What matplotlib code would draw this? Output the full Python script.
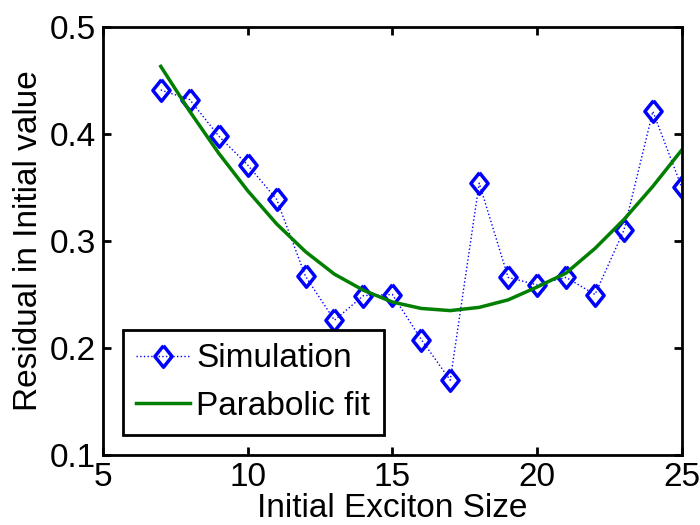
import matplotlib
matplotlib.use('Agg')
import matplotlib.pyplot as plt

# exciton size vs residual
sizes = [7, 8, 9, 10, 11, 12, 13, 14, 15, 16, 17, 18, 19, 20, 21, 22, 23, 24, 25]
sim = [0.441, 0.432, 0.398, 0.371, 0.339, 0.267, 0.226, 0.249, 0.250, 0.208, 0.170,
       0.354, 0.266, 0.259, 0.266, 0.250, 0.310, 0.421, 0.350]
fit = [0.463, 0.421, 0.382, 0.347, 0.316, 0.290, 0.269, 0.254, 0.243, 0.237, 0.235,
       0.238, 0.245, 0.257, 0.270, 0.293, 0.320, 0.351, 0.385]

plt.rcParams['font.family'] = ['Liberation Sans', 'DejaVu Sans']

# matlab style diamond, a bit taller than wide
diamond = [(0, 1), (0.8, 0), (0, -1), (-0.8, 0), (0, 1)]

fig = plt.figure(figsize=(7, 5.25), dpi=100)
ax = fig.add_axes([0.147, 0.133, 0.827, 0.816])

ax.plot(sizes, sim, color='blue', linestyle=':', linewidth=1, marker=diamond,
        markersize=15.5, markerfacecolor='none', markeredgecolor='blue',
        markeredgewidth=2.5, label='Simulation')
ax.plot(sizes, fit, color='#007f00', linewidth=2.5, label='Parabolic fit')

ax.set_xlim(5, 25)
ax.set_ylim(0.1, 0.5)
ax.set_xticks([5, 10, 15, 20, 25])
ax.set_yticks([0.1, 0.2, 0.3, 0.4, 0.5])
ax.set_yticklabels(['0.1', '0.2', '0.3', '0.4', '0.5'])
ax.tick_params(direction='in', top=True, right=True, labelsize=24, width=2, length=6, pad=5)
for s in ax.spines.values():
    s.set_linewidth(2)

ax.set_xlabel('Initial Exciton Size', fontsize=24, labelpad=0)
ax.set_ylabel('Residual in Initial value', fontsize=24, labelpad=4)

leg = ax.legend(loc='lower left', fontsize=24, fancybox=False, framealpha=1,
                edgecolor='black', borderaxespad=0.6, handlelength=1.6,
                handletextpad=0.2, borderpad=0.4, labelspacing=0.5)
leg.get_frame().set_linewidth(2)

fig.savefig('out.png', dpi=100)
